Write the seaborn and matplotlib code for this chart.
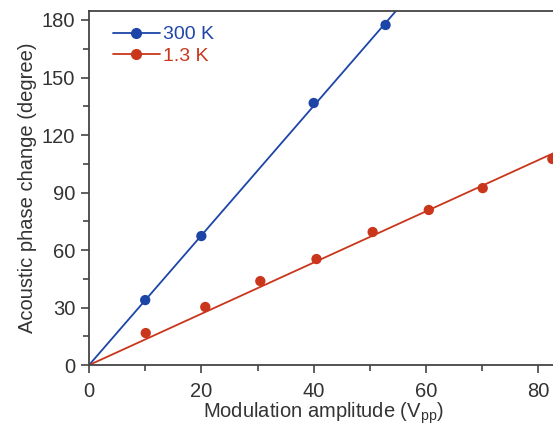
import matplotlib
matplotlib.use('Agg')
import matplotlib.pyplot as plt
from matplotlib.lines import Line2D
from matplotlib.ticker import MultipleLocator
import numpy as np
import pandas as pd
import seaborn as sns

# dados
x_300k = [10, 20, 40, 52.8]
y_300k = [33.9, 67.3, 136.7, 177.4]
x_13k = [10.1, 20.7, 30.5, 40.5, 50.5, 60.5, 70.1, 82.5]
y_13k = [16.7, 30.3, 43.8, 55.3, 69.4, 80.9, 92.3, 107.5]
labels = ['300 K', '1.3 K']

azul = '#1d45a8'
vermelho = '#c9361b'

sns.set_style('ticks')
plt.rcParams['font.family'] = ['Liberation Sans', 'DejaVu Sans']
plt.rcParams['mathtext.fontset'] = 'custom'
plt.rcParams['mathtext.rm'] = 'Liberation Sans'

fig = plt.figure(figsize=(5.53, 4.30), dpi=100)
ax = fig.add_axes([0.161, 0.151, 0.849, 0.823])

# ajuste linear passando pela origem
def ajuste(x, y):
    x = np.array(x)
    y = np.array(y)
    return (x * y).sum() / (x * x).sum()

a1 = ajuste(x_300k, y_300k)
a2 = ajuste(x_13k, y_13k)
xf = np.array([0, 100])
sns.lineplot(x=xf, y=a1 * xf, color=azul, lw=1.3, ax=ax)
sns.lineplot(x=xf, y=a2 * xf, color=vermelho, lw=1.3, ax=ax)

df1 = pd.DataFrame({'x': x_300k, 'y': y_300k})
df2 = pd.DataFrame({'x': x_13k, 'y': y_13k})
sns.scatterplot(data=df1, x='x', y='y', color=azul, s=55, edgecolor='none', ax=ax, zorder=3)
sns.scatterplot(data=df2, x='x', y='y', color=vermelho, s=55, edgecolor='none', ax=ax, zorder=3)

ax.set_xlim(0, 83.6)
ax.set_ylim(0, 184.6)
ax.xaxis.set_major_locator(MultipleLocator(20))
ax.xaxis.set_minor_locator(MultipleLocator(10))
ax.yaxis.set_major_locator(MultipleLocator(30))
ax.yaxis.set_minor_locator(MultipleLocator(15))
ax.tick_params(which='major', length=6, width=1.2, colors='#444444', labelsize=14.5, labelcolor='#333333', pad=4)
ax.tick_params(axis='x', which='major', pad=6)
ax.tick_params(which='minor', length=4, width=1.2, colors='#444444')
for s in ['left', 'bottom', 'top']:
    ax.spines[s].set_color('#444444')
    ax.spines[s].set_linewidth(1.3)
    ax.spines[s].set_visible(True)
ax.spines['right'].set_visible(False)

ax.set_xlabel('Modulation amplitude (V$_{\\mathrm{pp}}$)', fontsize=14.5, color='#333333', labelpad=0)
ax.set_ylabel('Acoustic phase change (degree)', fontsize=14.5, color='#333333', labelpad=3)

handles = [Line2D([], [], color=azul, lw=1.3, marker='o', markersize=7),
           Line2D([], [], color=vermelho, lw=1.3, marker='o', markersize=7)]
leg = ax.legend(handles, labels, loc='upper left', frameon=False, fontsize=14,
                handlelength=2.4, handletextpad=0.15, labelspacing=0.22,
                borderaxespad=0.35, bbox_to_anchor=(0.02, 1.0))
for t, c in zip(leg.get_texts(), [azul, vermelho]):
    t.set_color(c)

fig.savefig('out.png', dpi=100)
